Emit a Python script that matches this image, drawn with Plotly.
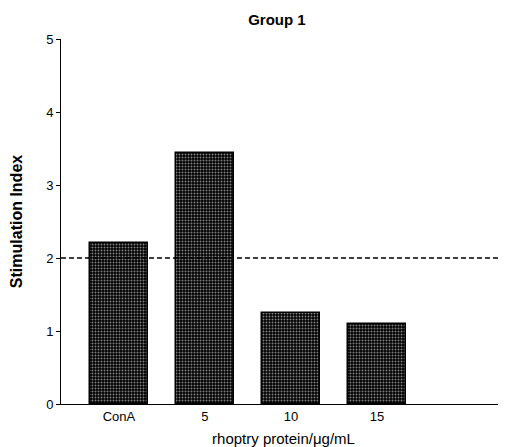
import plotly.graph_objects as go

categories = ["ConA", "5", "10", "15"]
values = [2.2, 3.44, 1.25, 1.1]
threshold = 2.0
y_ticks = [0, 1, 2, 3, 4, 5]

xpos = list(range(len(categories)))

fig = go.Figure()
fig.add_trace(go.Bar(
    x=xpos, y=values, width=0.674,
    marker=dict(color="black", line=dict(color="black", width=1.5),
                pattern=dict(shape=".", fgcolor="white", bgcolor="black", size=3, solidity=0.35, fillmode="overlay")),
    showlegend=False,
))
fig.add_shape(type="line", xref="paper", x0=0, x1=1, yref="y", y0=threshold, y1=threshold,
              line=dict(color="black", width=1.5, dash="5px,3px"))

font = "Liberation Sans, Arial, sans-serif"
fig.update_layout(
    width=498, height=439,
    margin=dict(l=53, r=0, t=31, b=43),
    paper_bgcolor="white", plot_bgcolor="white",
    title=dict(text="<b>Group 1</b>", x=0.54, xanchor="center", y=1 - 12 / 439, yanchor="middle",
               font=dict(family=font, size=15, color="black")),
    font=dict(family=font, size=13, color="black"),
    bargap=0,
)
fig.update_xaxes(range=[-0.674, 4.5], tickvals=xpos, ticktext=categories, showline=True,
                 linecolor="black", linewidth=1, ticks="", showgrid=False, zeroline=False,
                 automargin=False,
                 title=dict(text="rhoptry protein/μg/mL", font=dict(size=15), standoff=10),
                 tickfont=dict(size=13))
fig.update_yaxes(range=[0, 5], tickvals=y_ticks, showline=True, linecolor="black", linewidth=1,
                 ticks="outside", ticklen=4, tickcolor="black", showgrid=False, zeroline=False,
                 automargin=False,
                 title=dict(text="<b>Stimulation Index</b>", font=dict(size=16), standoff=20),
                 tickfont=dict(size=13))

fig.write_html("out.html")
